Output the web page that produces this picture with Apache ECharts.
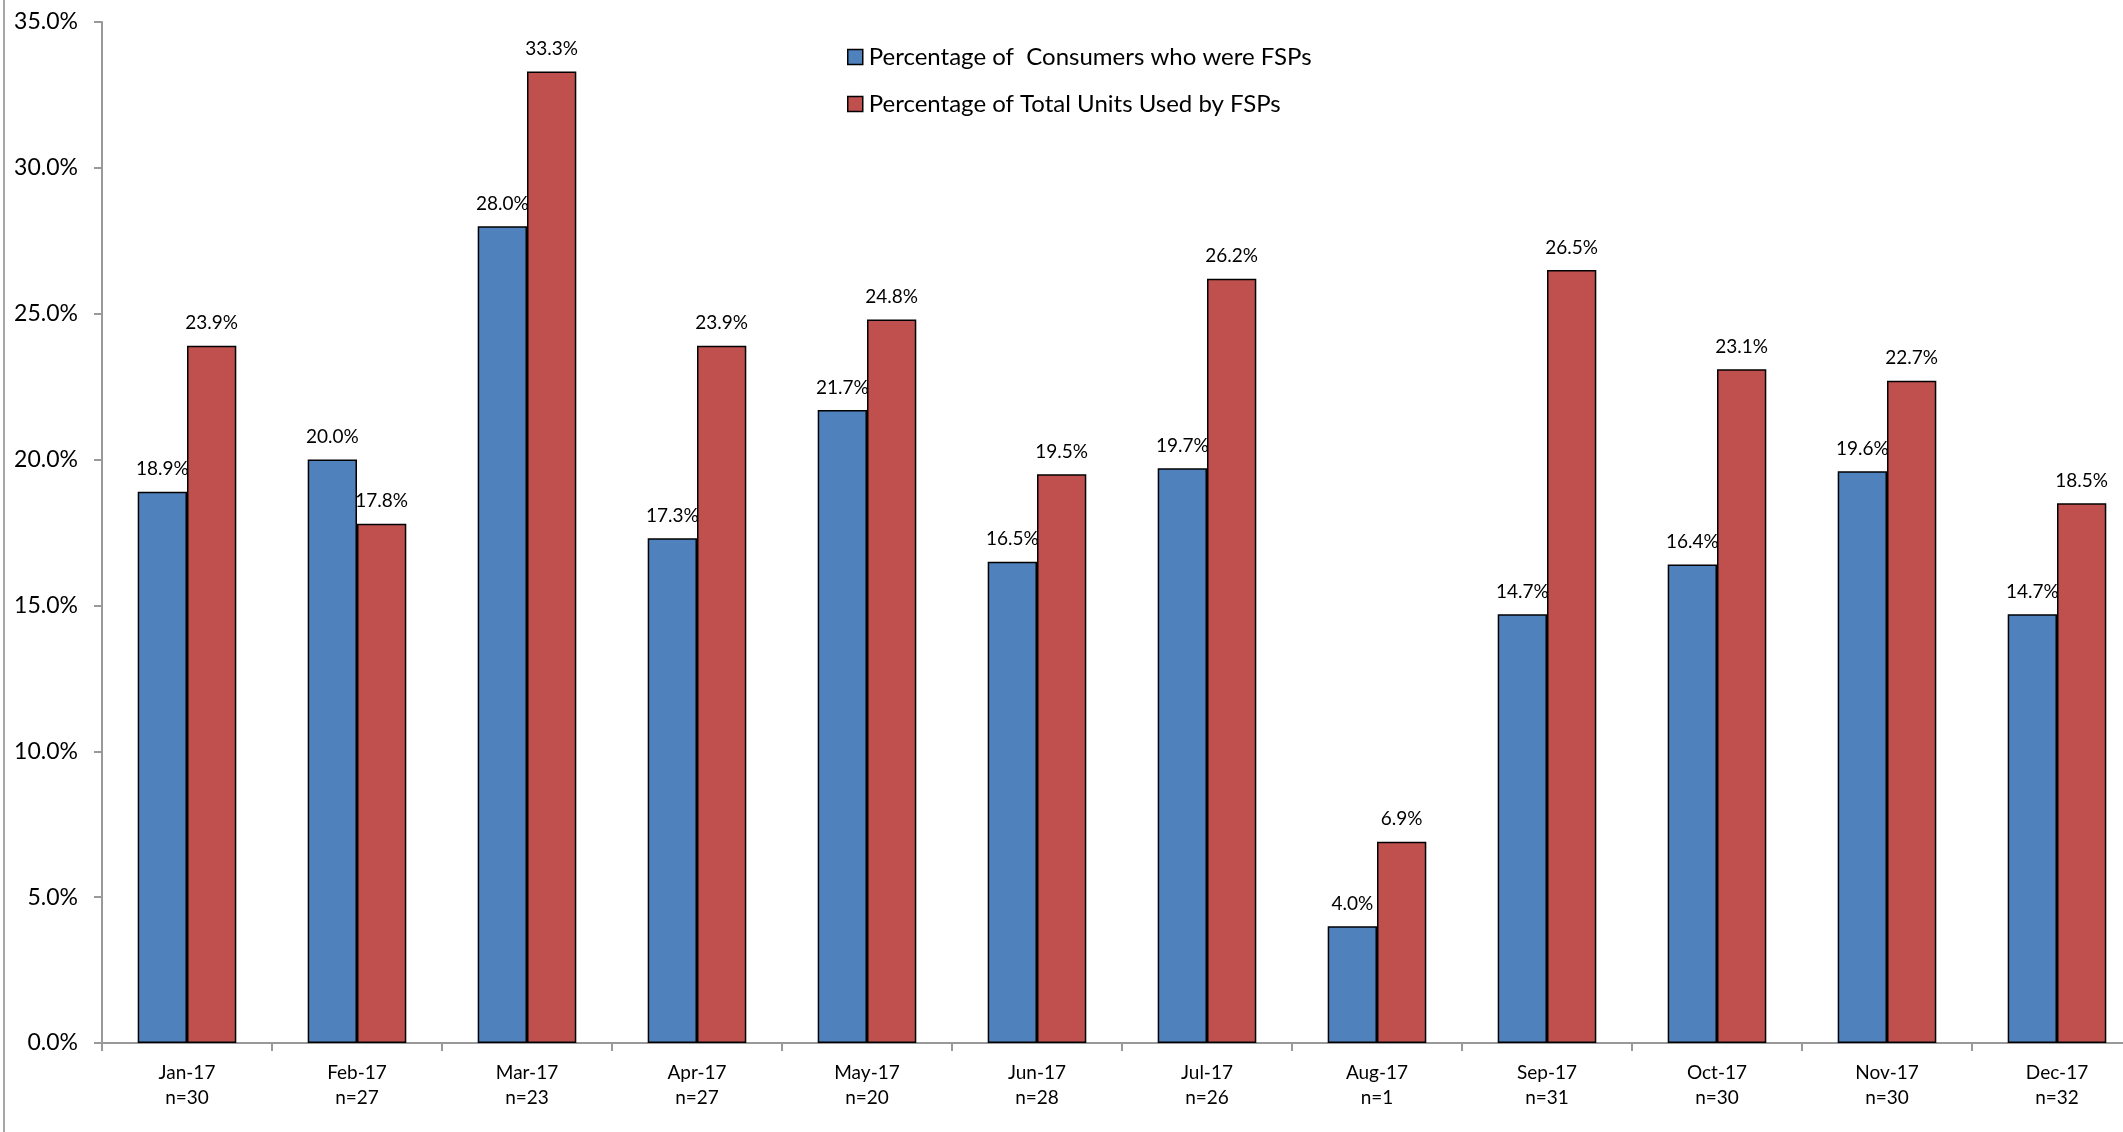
<!DOCTYPE html>
<html>
<head>
<meta charset="utf-8">
<script src="https://cdn.jsdelivr.net/npm/echarts@6/dist/echarts.min.js"></script>
<style>
html,body{margin:0;padding:0;background:#fff;overflow:hidden;width:2123px;height:1132px;}
#edge{position:absolute;left:3px;top:0;width:2px;height:1132px;background:#a6a6a6;}
#chart{position:absolute;left:0;top:0;width:2150px;height:1132px;}
</style>
</head>
<body>
<div id="chart"></div>
<div id="edge"></div>
<script>
const months = ['Jan-17','Feb-17','Mar-17','Apr-17','May-17','Jun-17','Jul-17','Aug-17','Sep-17','Oct-17','Nov-17','Dec-17'];
const sampleSizes = [30,27,23,27,20,28,26,1,31,30,30,32];
const consumersFSP = [18.9,20.0,28.0,17.3,21.7,16.5,19.7,4.0,14.7,16.4,19.6,14.7];
const unitsFSP = [23.9,17.8,33.3,23.9,24.8,19.5,26.2,6.9,26.5,23.1,22.7,18.5];
const yTicks = [0,5,10,15,20,25,30,35];
const seriesNames = ['Percentage of  Consumers who were FSPs','Percentage of Total Units Used by FSPs'];

const FONT = 'Lato, "Open Sans", sans-serif';
const chart = echarts.init(document.getElementById('chart'), null, {renderer:'canvas'});
const labelCfg = {
  show:true, position:'top', distance:13, color:'#000', fontFamily:FONT, fontSize:19,
  formatter: p => p.value.toFixed(1) + '%'
};
chart.setOption({
  animation:false,
  backgroundColor:'#fff',
  textStyle:{fontFamily:FONT},
  grid:{left:102, top:22, width:2040, bottom:89, containLabel:false},
  legend:{
    orient:'vertical', left:842, top:40, itemWidth:15, itemHeight:15, itemGap:23,
    icon:'rect',
    textStyle:{fontFamily:FONT, fontSize:24, color:'#000', padding:[0,0,0,1]},
    data: seriesNames.map(n=>({name:n, itemStyle:{borderColor:'#000', borderWidth:1.5}}))
  },
  xAxis:{
    type:'category', data: months.map((m,i)=> m + '\nn=' + sampleSizes[i]),
    axisLine:{lineStyle:{color:'#999', width:2}},
    axisTick:{show:true, alignWithLabel:false, length:8, lineStyle:{color:'#999', width:2}},
    axisLabel:{color:'#000', fontFamily:FONT, fontSize:19, lineHeight:25, margin:17}
  },
  yAxis:{
    type:'value', min:yTicks[0], max:yTicks[yTicks.length-1], interval:5,
    splitLine:{show:false},
    axisLine:{show:true, lineStyle:{color:'#999', width:2}},
    axisTick:{show:true, length:8, lineStyle:{color:'#999', width:2}},
    axisLabel:{color:'#000', fontFamily:FONT, fontSize:23, margin:24, formatter: v => v.toFixed(1) + '%'}
  },
  series:[
    {name:seriesNames[0], type:'bar', data:consumersFSP, barGap:'0%', barCategoryGap:'42%',
     itemStyle:{color:'#4F81BD', borderColor:'#000', borderWidth:1.5}, label:labelCfg},
    {name:seriesNames[1], type:'bar', data:unitsFSP, barGap:'0%', barCategoryGap:'42%',
     itemStyle:{color:'#C0504D', borderColor:'#000', borderWidth:1.5}, label:labelCfg}
  ]
});
</script>
</body>
</html>
